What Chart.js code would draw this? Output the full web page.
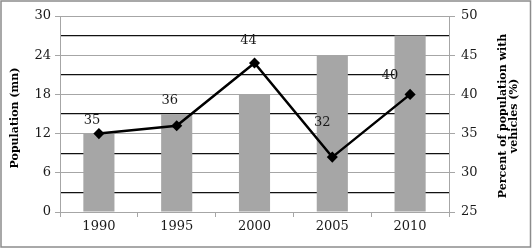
<!DOCTYPE html>
<html>
<head>
<meta charset="utf-8">
<script src="https://cdn.jsdelivr.net/npm/chart.js@4.4.0/dist/chart.umd.min.js"></script>
<style>
  html, body { margin: 0; padding: 0; background: #fff; }
  #wrap { width: 532px; height: 249px; }
</style>
</head>
<body>
<div id="wrap"><canvas id="chart" width="532" height="249"></canvas></div>
<script>
// Chart data
const years = ['1990', '1995', '2000', '2005', '2010'];
const population = [12, 15, 18, 24, 27];          // mn, left axis
const vehiclePercent = [35, 36, 44, 32, 40];      // %, right axis

// label nudges (px) for the percent labels, as placed in the original
const labelShift = [[-7, -13], [-7, -25], [-6, -22], [-10, -34], [-20, -19]];

const serif = '"DejaVu Serif", serif';
const grayLine = '#a6a6a6';

// Draw titles, value labels and the outer frame
const extras = {
    id: 'extras',
    afterDraw(chart) {
        const ctx = chart.ctx;
        const meta = chart.getDatasetMeta(1);
        ctx.save();
        ctx.fillStyle = '#1a1a1a';
        ctx.font = '13px ' + serif;
        ctx.textAlign = 'center';
        ctx.textBaseline = 'middle';
        meta.data.forEach((pt, i) => {
            ctx.fillText(String(vehiclePercent[i]), pt.x + labelShift[i][0], pt.y + labelShift[i][1]);
        });

        ctx.fillStyle = '#000';
        ctx.font = 'bold 11px ' + serif;
        ctx.translate(15, 118);
        ctx.rotate(-Math.PI / 2);
        ctx.fillText('Population (mn)', 0, 0);
        ctx.setTransform(1, 0, 0, 1, 0, 0);

        ctx.translate(503, 116);
        ctx.rotate(-Math.PI / 2);
        ctx.fillText('Percent of population with', 0, 0);
        ctx.fillText('vehicles (%)', 0, 11);
        ctx.setTransform(1, 0, 0, 1, 0, 0);

        ctx.strokeStyle = '#8c8c8c';
        ctx.lineWidth = 1.5;
        ctx.strokeRect(1, 1, 529.5, 246);
        ctx.restore();
    }
};

new Chart(document.getElementById('chart'), {
    data: {
        labels: years,
        datasets: [
            {
                type: 'bar',
                data: population,
                yAxisID: 'y',
                backgroundColor: '#a6a6a6',
                barPercentage: 0.4,
                categoryPercentage: 1,
                order: 2
            },
            {
                type: 'line',
                data: vehiclePercent,
                yAxisID: 'y1',
                borderColor: '#000',
                borderWidth: 2.5,
                pointStyle: 'rectRot',
                pointRadius: 3.8,
                pointBackgroundColor: '#000',
                pointBorderColor: '#000',
                tension: 0,
                order: 1
            }
        ]
    },
    options: {
        responsive: false,
        animation: false,
        layout: { padding: { top: 16, right: 0, left: 0, bottom: 0 } },
        plugins: { legend: { display: false }, tooltip: { enabled: false } },
        scales: {
            x: {
                afterFit: s => { s.height = 37; },
                grid: { drawOnChartArea: false, color: grayLine, tickLength: 5, offset: true },
                border: { color: grayLine },
                ticks: { color: '#1a1a1a', font: { family: serif, size: 13 }, padding: 2 }
            },
            y: {
                position: 'left',
                min: 0, max: 30,
                afterFit: s => { s.width = 60; },
                grid: {
                    color: c => (c.tick && c.tick.value % 6 !== 0) ? '#111' : grayLine,
                    lineWidth: c => (c.tick && c.tick.value % 6 !== 0) ? 1.2 : 1,
                    tickColor: c => (c.tick && c.tick.value % 6 !== 0) ? 'rgba(0,0,0,0)' : grayLine,
                    tickLength: 5
                },
                border: { color: grayLine },
                ticks: {
                    stepSize: 3,
                    autoSkip: false,
                    color: '#1a1a1a',
                    font: { family: serif, size: 13 },
                    padding: 4,
                    callback: v => (v % 6 === 0 ? v : '')
                }
            },
            y1: {
                position: 'right',
                min: 25, max: 50,
                afterFit: s => { s.width = 83; },
                grid: { drawOnChartArea: false, color: grayLine, tickLength: 6 },
                border: { color: grayLine },
                ticks: { stepSize: 5, color: '#1a1a1a', font: { family: serif, size: 13 }, padding: 6 }
            }
        }
    },
    plugins: [extras]
});
</script>
</body>
</html>
